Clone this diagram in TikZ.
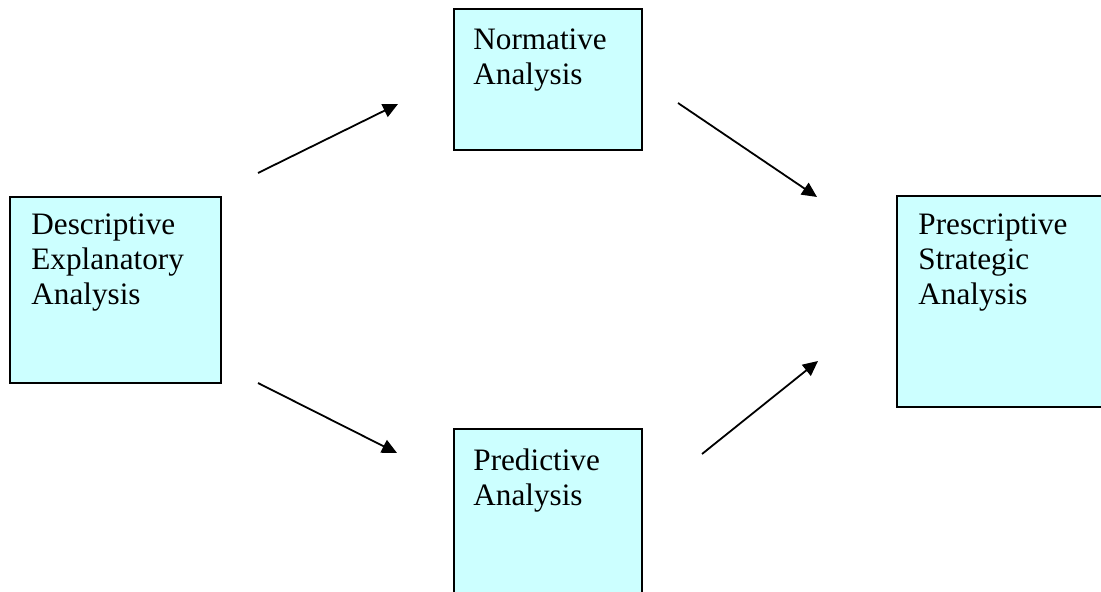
\documentclass[tikz,border=0pt]{standalone}
\usepackage{fontspec}
\setmainfont{Liberation Serif}
\usepackage{tikz}
\usetikzlibrary{arrows.meta}
\definecolor{boxcyan}{HTML}{CCFFFF}
\tikzstyle{stage}=[rectangle,draw=black,fill=boxcyan,line width=1pt,inner sep=0mm]
\tikzstyle{txt}=[anchor=north west,align=left,inner sep=0mm,font=\fontsize{15.6}{17.5}\selectfont]
\tikzstyle{arrow}=[-{Triangle[length=7.5pt,width=7pt]},line width=0.9pt]
\tikzset{every picture/.style={
    x=0.5pt,y=-0.5pt
  }
}

\begin{document}
\begin{tikzpicture}
      \useasboundingbox (0,0) rectangle (1101,592);
      \clip (0,0) rectangle (1101,592);
      \node[stage,minimum width=105.5pt,minimum height=93pt] at (115.5,290) (desc) {};
      \node[stage,minimum width=94pt,minimum height=70.5pt] at (548,79.5) (norm) {};
      \node[stage,minimum width=94pt,minimum height=105.5pt] at (548,534.5) (pred) {};
      \node[stage,minimum width=116.5pt,minimum height=105.5pt] at (1013.5,301.5) (presc) {};
      \node[txt] at (31,213.6) (desctxt) {Descriptive\\Explanatory\\Analysis};
      \node[txt] at (473,28.6) (normtxt) {Normative\\Analysis};
      \node[txt] at (473,448.6) (predtxt) {Predictive\\Analysis};
      \node[txt] at (918,213.6) (presctxt) {Prescriptive\\Strategic\\Analysis};
      \coordinate (dn1) at (258,173);
      \coordinate (dn2) at (398,104);
      \coordinate (np1) at (678,103);
      \coordinate (np2) at (817,197);
      \coordinate (dp1) at (258,383);
      \coordinate (dp2) at (397,453);
      \coordinate (pp1) at (702,454);
      \coordinate (pp2) at (818,361);
      \draw[arrow] (dn1) -- (dn2);
      \draw[arrow] (np1) -- (np2);
      \draw[arrow] (dp1) -- (dp2);
      \draw[arrow] (pp1) -- (pp2);
    \end{tikzpicture}
\end{document}
